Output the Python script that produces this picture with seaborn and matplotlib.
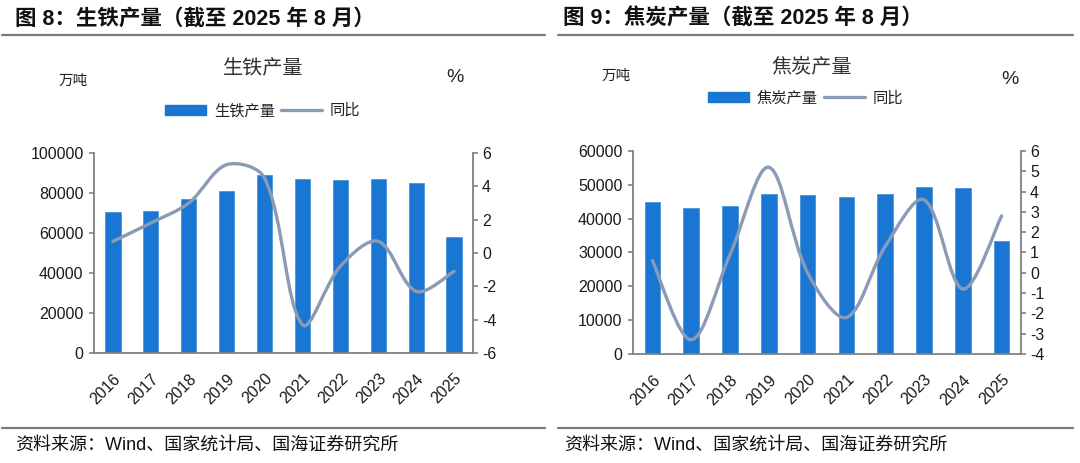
import numpy as np
import pandas as pd
import matplotlib
matplotlib.use("Agg")
import matplotlib.pyplot as plt
import seaborn as sns
from matplotlib.path import Path
from matplotlib.patches import PathPatch, Patch
from matplotlib.lines import Line2D

# ---------------- data ----------------
years = ["2016", "2017", "2018", "2019", "2020", "2021", "2022", "2023", "2024", "2025"]
iron_output = [70300, 71100, 77100, 80900, 88800, 86900, 86400, 87200, 85200, 58000]
iron_yoy = [0.7, 1.8, 3.0, 5.3, 4.5, -4.3, -0.8, 0.7, -2.3, -1.1]
coke_output = [44900, 43150, 43800, 47150, 47000, 46400, 47300, 49250, 48950, 33400]
coke_yoy = [0.6, -3.3, 0.9, 5.2, 0.0, -2.2, 1.3, 3.6, -0.8, 2.8]

header_left = "图 8：生铁产量（截至 2025 年 8 月）"
header_right = "图 9：焦炭产量（截至 2025 年 8 月）"
title_left = "生铁产量"
title_right = "焦炭产量"
unit_left = "万吨"
unit_right = "%"
legend_yoy = "同比"
source = "资料来源：Wind、国家统计局、国海证券研究所"

iron_yticks = [0, 20000, 40000, 60000, 80000, 100000]
iron_y2ticks = [-6, -4, -2, 0, 2, 4, 6]
coke_yticks = [0, 10000, 20000, 30000, 40000, 50000, 60000]
coke_y2ticks = [-4, -3, -2, -1, 0, 1, 2, 3, 4, 5, 6]

BAR = "#1976D2"
LINE = "#8A9BB6"
SPINE = "#808080"
TXT = "#1a1a1a"

sns.set_style("white")
FAM = ["Liberation Sans", "Noto Sans CJK SC", "DejaVu Sans"]
plt.rcParams["font.family"] = FAM
plt.rcParams["axes.unicode_minus"] = False

W, H = 1080, 463
fig = plt.figure(figsize=(W / 100, H / 100), dpi=100)
fig.patch.set_facecolor("white")


def fx(px):
    return px / W


def fy(py):
    return 1 - py / H


def smooth_path(xs, ys, sx, sy):
    """Excel-like smoothed curve through the data points (Bezier, length-weighted tangents)."""
    pts = np.column_stack([xs, ys]).astype(float)
    n = len(pts)
    scale = np.array([sx, sy])
    seg = np.linalg.norm(np.diff(pts, axis=0) * scale, axis=1)
    tang = []
    for i in range(n):
        p0 = pts[i - 1] if i > 0 else pts[i]
        p2 = pts[i + 1] if i < n - 1 else pts[i]
        tang.append(p2 - p0)
    verts = [pts[0]]
    codes = [Path.MOVETO]
    for i in range(n - 1):
        dprev = seg[i - 1] if i > 0 else seg[i]
        dnext = seg[i + 1] if i + 1 < n - 1 else seg[i]
        w1 = seg[i] / (dprev + seg[i]) / 3.0
        w2 = seg[i] / (seg[i] + dnext) / 3.0
        if i == 0:
            w1 = 1 / 6.0
        if i == n - 2:
            w2 = 1 / 6.0
        c1 = pts[i] + tang[i] * w1
        c2 = pts[i + 1] - tang[i + 1] * w2
        verts += [c1, c2, pts[i + 1]]
        codes += [Path.CURVE4] * 3
    return Path(verts, codes)


def make_panel(rect, values, yoy, yticks, y2ticks):
    ax = fig.add_axes(rect)
    df = pd.DataFrame({"year": years, "value": values, "yoy": yoy})
    sns.barplot(data=df, x="year", y="value", ax=ax, color=BAR, saturation=1,
                width=0.4, edgecolor="#4a95dd", linewidth=0.6)
    ax.set_xlim(-0.5, len(years) - 0.5)
    ax.set_ylim(yticks[0], yticks[-1])
    ax.set_yticks(yticks)
    ax.set_yticklabels([str(t) for t in yticks])
    ax.set_xlabel("")
    ax.set_ylabel("")
    ax.set_xticks(range(len(years)))
    ax.set_xticklabels(years, rotation=45, ha="right", rotation_mode="anchor")
    ax.set_xticks(np.arange(-0.5, len(years)), minor=True)
    ax.tick_params(axis="x", which="major", length=0, pad=13, labelsize=11.5, colors=TXT)
    ax.tick_params(axis="x", which="minor", length=4.5, width=1.2, color=SPINE, direction="out")
    ax.tick_params(axis="y", length=3.5, width=1.2, color=SPINE, direction="out", pad=4,
                   labelsize=11.5, labelcolor=TXT, left=True)
    for s in ["top", "right"]:
        ax.spines[s].set_visible(False)
    for s in ["left", "bottom"]:
        ax.spines[s].set_color(SPINE)
        ax.spines[s].set_linewidth(1.3)
    ax.grid(False)

    ax2 = ax.twinx()
    ax2.set_ylim(y2ticks[0], y2ticks[-1])
    ax2.set_yticks(y2ticks)
    ax2.set_yticklabels([str(t) for t in y2ticks])
    ax2.tick_params(axis="y", length=3.5, width=1.2, color=SPINE, direction="out", pad=3,
                    labelsize=11.5, labelcolor=TXT, right=True)
    for s in ["top", "left", "bottom"]:
        ax2.spines[s].set_visible(False)
    ax2.spines["right"].set_color(SPINE)
    ax2.spines["right"].set_linewidth(1.3)
    ax2.grid(False)
    xs = np.arange(len(years))
    wpx = rect[2] * W
    hpx = rect[3] * H
    sx = wpx / len(years)
    sy = hpx / (y2ticks[-1] - y2ticks[0])
    path = smooth_path(xs, df["yoy"].values, sx, sy)
    ax2.add_patch(PathPatch(path, facecolor="none", edgecolor=LINE, lw=2.4,
                            capstyle="round", joinstyle="round"))
    return ax, ax2


# left panel: spines x 94..473, y 153..353
make_panel([fx(94), fy(353), fx(473 - 94), (353 - 153) / H],
           iron_output, iron_yoy, iron_yticks, iron_y2ticks)
# right panel: spines x 633..1021, y 151..354
make_panel([fx(633), fy(354), fx(1021 - 633), (354 - 151) / H],
           coke_output, coke_yoy, coke_yticks, coke_y2ticks)

# headers
hdr_kw = dict(fontsize=15.5, fontweight="bold", color="#111111", va="center", ha="left")
fig.text(fx(15), fy(19), header_left, **hdr_kw)
fig.text(fx(563), fy(19), header_right, **hdr_kw)
for x0, x1 in [(2, 545), (558, 1073)]:
    fig.add_artist(Line2D([fx(x0), fx(x1)], [fy(35), fy(35)], transform=fig.transFigure,
                          color="#7a7a7a", lw=1.6))
    fig.add_artist(Line2D([fx(x0), fx(x1)], [fy(428), fy(428)], transform=fig.transFigure,
                          color="#7a7a7a", lw=1.6))

# chart titles, units
ttl_kw = dict(fontsize=14.5, color="#333333", ha="center", va="center")
fig.text(fx(263.5), fy(69), title_left, **ttl_kw)
fig.text(fx(811.5), fy(66.5), title_right, **ttl_kw)
unit_kw = dict(fontsize=10.5, color="#222222", ha="center", va="center")
fig.text(fx(73), fy(81), unit_left, **unit_kw)
fig.text(fx(616.5), fy(76), unit_left, **unit_kw)
pct_kw = dict(fontsize=14, color="#222222", ha="center", va="center")
fig.text(fx(455), fy(77.5), unit_right, **pct_kw)
fig.text(fx(1009.5), fy(79), unit_right, **pct_kw)

# legends
for name, cx, cy in [(title_left, 262.5, 111), (title_right, 805.5, 98)]:
    handles = [Patch(facecolor=BAR, edgecolor=BAR),
               Line2D([], [], color=LINE, lw=2.4)]
    fig.legend(handles, [name, legend_yoy], loc="center", bbox_to_anchor=(fx(cx), fy(cy)),
               ncol=2, frameon=False, fontsize=11, handlelength=2.7, handleheight=0.65,
               handletextpad=0.5, columnspacing=0.4, borderpad=0, borderaxespad=0,
               labelcolor="#222222")

# footers
ftr_kw = dict(fontsize=13, color="#111111", ha="left", va="center")
fig.text(fx(15), fy(445), source, **ftr_kw)
fig.text(fx(564), fy(445), source, **ftr_kw)

fig.savefig("out.png", dpi=100, facecolor="white")
